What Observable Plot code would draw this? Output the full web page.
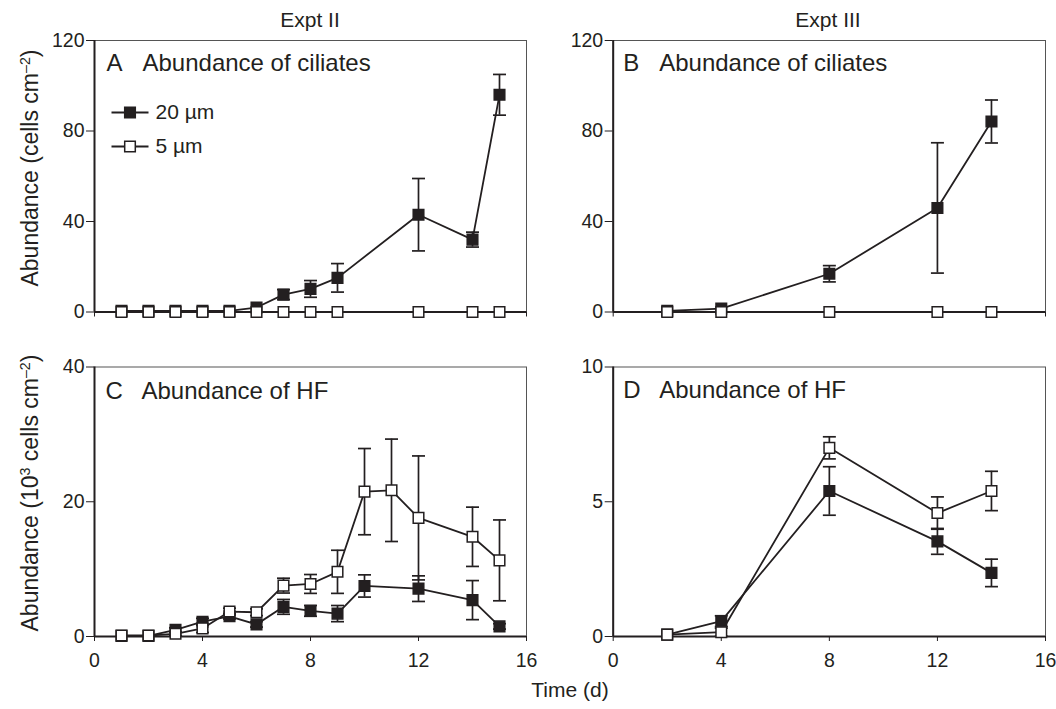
<!DOCTYPE html>
<html><head><meta charset="utf-8">
<script src="https://cdn.jsdelivr.net/npm/d3@7"></script>
<script src="https://cdn.jsdelivr.net/npm/@observablehq/plot@0.6"></script>
<style>
body{margin:0;background:#fff;}
#chart{position:relative;width:1056px;height:709px;font-family:"Liberation Sans",Arial,sans-serif;color:#231f20;overflow:hidden;}
.panel{position:absolute;}
.ttl{position:absolute;font-size:21px;white-space:nowrap;transform:translate(-50%,-50%);}
.ytl{position:absolute;font-size:23px;white-space:nowrap;transform:translate(-50%,-50%) rotate(-90deg);}
.ytl sup{font-size:0.62em;vertical-align:0.55em;line-height:0;}
</style></head><body><div id="chart"></div>
<script>
// ---- Data ----
// Panel A: Expt II ciliates (cells cm^-2)
const daysA = [1, 2, 3, 4, 5, 6, 7, 8, 9, 12, 14, 15];
const cil20A = [0.5, 0.5, 0.5, 0.5, 0.5, 2, 7.7, 10.2, 15.1, 43, 32, 96];
const cil20AErr = [0, 0, 0, 0, 0, 0, 2.2, 3.7, 6.3, 16, 3.3, 9];
const cil5A = [0, 0, 0, 0, 0, 0, 0, 0, 0, 0, 0, 0];
const cil5AErr = [0, 0, 0, 0, 0, 0, 0, 0, 0, 0, 0, 0];
// Panel B: Expt III ciliates
const daysB = [2, 4, 8, 12, 14];
const cil20B = [0.5, 1.5, 16.9, 46, 84.2];
const cil20BErr = [0, 0, 3.6, 28.8, 9.5];
const cil5B = [0, 0, 0, 0, 0];
const cil5BErr = [0, 0, 0, 0, 0];
// Panel C: Expt II HF (10^3 cells cm^-2)
const daysC20 = [1, 2, 3, 4, 5, 6, 7, 8, 9, 10, 12, 14, 15];
const hf20C = [0.1, 0.1, 1.0, 2.2, 3.0, 1.8, 4.4, 3.8, 3.4, 7.5, 7.1, 5.4, 1.5];
const hf20CErr = [0, 0, 0.3, 0.5, 0.4, 0.4, 1.1, 0.8, 1.2, 1.65, 1.9, 2.9, 0.4];
const daysC5 = [1, 2, 3, 4, 5, 6, 7, 8, 9, 10, 11, 12, 14, 15];
const hf5C = [0.15, 0.15, 0.4, 1.2, 3.7, 3.6, 7.55, 7.8, 9.6, 21.5, 21.7, 17.6, 14.8, 11.3];
const hf5CErr = [0, 0, 0.3, 0.6, 0.5, 0.5, 1.1, 1.4, 3.2, 6.4, 7.6, 9.2, 4.4, 6.0];
// Panel D: Expt III HF
const daysD = [2, 4, 8, 12, 14];
const hf20D = [0.07, 0.57, 5.4, 3.53, 2.36];
const hf20DErr = [0, 0.2, 0.9, 0.48, 0.51];
const hf5D = [0.07, 0.16, 7.0, 4.58, 5.4];
const hf5DErr = [0, 0.15, 0.41, 0.6, 0.73];
// Tick labels
const xTicks = [0, 4, 8, 12, 16];
const yTicksCil = [0, 40, 80, 120];
const yTicksHFII = [0, 20, 40];
const yTicksHFIII = [0, 5, 10];
const seriesNames = ["20 µm", "5 µm"];

// ---- helpers ----
const INK = "#231f20";
const FONT = "'Liberation Sans', Arial, sans-serif";
const rows = (days, v, e) => days.map((d, i) => ({day: d, v: v[i], lo: v[i] - e[i], hi: v[i] + e[i], e: e[i]}));
const sq = s => ({draw(ctx) { ctx.moveTo(-s, -s); ctx.lineTo(s, -s); ctx.lineTo(s, s); ctx.lineTo(-s, s); ctx.closePath(); }});
const hseg = s => ({draw(ctx) { ctx.moveTo(-s, 0); ctx.lineTo(s, 0); }});
const SQ = sq(5.3), CAP = hseg(6.5), LEGLINE = hseg(18.5);

function seriesMarks(r, filled) {
  const er = r.filter(d => d.e > 0);
  return [
    Plot.line(r, {x: "day", y: "v", stroke: INK, strokeWidth: 1.8}),
    Plot.ruleX(er, {x: "day", y1: "lo", y2: "hi", stroke: INK, strokeWidth: 1.7}),
    Plot.dot(er, {x: "day", y: "lo", symbol: CAP, fill: "none", stroke: INK, strokeWidth: 1.7}),
    Plot.dot(er, {x: "day", y: "hi", symbol: CAP, fill: "none", stroke: INK, strokeWidth: 1.7}),
    Plot.dot(r, {x: "day", y: "v", symbol: SQ, fill: filled ? INK : "white", stroke: INK, strokeWidth: 1.5})
  ];
}

function panel(o) {
  const marks = [
    Plot.frame({stroke: "#555", strokeWidth: 1}),
    Plot.axisX({ticks: xTicks, tickSize: 5, tickPadding: 12, fontSize: 19.5, label: null,
      tickFormat: o.showX ? d3.format("d") : () => "", stroke: INK}),
    Plot.axisY({ticks: o.yTicks, tickSize: 8, tickPadding: 2, fontSize: 19.5, label: null, stroke: INK}),
    Plot.ruleX([0], {stroke: INK, strokeWidth: 2}),
    Plot.ruleY([0], {stroke: INK, strokeWidth: 2}),
    Plot.text([o.letter], {frameAnchor: "top-left", text: d => d, dx: o.ldx, dy: o.ldy, lineAnchor: "top", textAnchor: "start", fontSize: 24, fill: INK}),
    Plot.text([o.title], {frameAnchor: "top-left", text: d => d, dx: o.ldx + 36, dy: o.ldy, lineAnchor: "top", textAnchor: "start", fontSize: 24, fill: INK}),
    ...o.series.flatMap(s => seriesMarks(s.rows, s.filled))
  ];
  if (o.legend) {
    const ly = [72, 106];
    seriesNames.forEach((name, i) => {
      marks.push(Plot.dot([name], {frameAnchor: "top-left", dx: 35.5, dy: ly[i], symbol: LEGLINE, fill: "none", stroke: INK, strokeWidth: 1.8}));
      marks.push(Plot.dot([name], {frameAnchor: "top-left", dx: 35.5, dy: ly[i], symbol: SQ, fill: i === 0 ? INK : "white", stroke: INK, strokeWidth: 1.5}));
      marks.push(Plot.text([name], {frameAnchor: "top-left", text: d => d, dx: 61, dy: ly[i], lineAnchor: "middle", textAnchor: "start", fontSize: 21, fill: INK}));
    });
  }
  const svg = Plot.plot({
    width: o.w, height: o.h,
    marginLeft: o.ml, marginRight: o.mr, marginTop: o.mt, marginBottom: o.mb,
    x: {domain: [0, 16]},
    y: {domain: o.yDomain},
    style: {fontFamily: FONT, fontSize: "19.5px", color: INK, background: "transparent", overflow: "visible"},
    marks
  });
  svg.classList.add("panel");
  svg.style.left = o.left + "px";
  svg.style.top = o.top + "px";
  svg.style.maxWidth = "none";
  document.getElementById("chart").appendChild(svg);
}

panel({left: 0, top: 0, w: 535, h: 330, ml: 94, mr: 9, mt: 40, mb: 18.5,
  yDomain: [0, 120], yTicks: yTicksCil, showX: false, letter: "A", title: "Abundance of ciliates", ldx: 12, ldy: 13, legend: true,
  series: [{rows: rows(daysA, cil20A, cil20AErr), filled: true}, {rows: rows(daysA, cil5A, cil5AErr), filled: false}]});
panel({left: 535, top: 0, w: 521, h: 330, ml: 77.7, mr: 11, mt: 40, mb: 18.5,
  yDomain: [0, 120], yTicks: yTicksCil, showX: false, letter: "B", title: "Abundance of ciliates", ldx: 10, ldy: 13,
  series: [{rows: rows(daysB, cil20B, cil20BErr), filled: true}, {rows: rows(daysB, cil5B, cil5BErr), filled: false}]});
panel({left: 0, top: 330, w: 535, h: 379, ml: 94, mr: 9, mt: 36.5, mb: 73,
  yDomain: [0, 40], yTicks: yTicksHFII, showX: true, letter: "C", title: "Abundance of HF", ldx: 11, ldy: 15,
  series: [{rows: rows(daysC20, hf20C, hf20CErr), filled: true}, {rows: rows(daysC5, hf5C, hf5CErr), filled: false}]});
panel({left: 535, top: 330, w: 521, h: 379, ml: 77.7, mr: 11, mt: 36.5, mb: 73,
  yDomain: [0, 10], yTicks: yTicksHFIII, showX: true, letter: "D", title: "Abundance of HF", ldx: 10, ldy: 14,
  series: [{rows: rows(daysD, hf20D, hf20DErr), filled: true}, {rows: rows(daysD, hf5D, hf5DErr), filled: false}]});

const chart = document.getElementById("chart");
const addDiv = (cls, html, x, y) => { const d = document.createElement("div"); d.className = cls; d.innerHTML = html; d.style.left = x + "px"; d.style.top = y + "px"; chart.appendChild(d); };
addDiv("ttl", "Expt II", 310, 20);
addDiv("ttl", "Expt III", 828, 20);
addDiv("ttl", "Time (d)", 570, 690);
addDiv("ytl", "Abundance (cells cm<sup>–2</sup>)", 30, 168);
addDiv("ytl", "Abundance (10<sup>3</sup> cells cm<sup>–2</sup>)", 30, 493);
</script></body></html>
